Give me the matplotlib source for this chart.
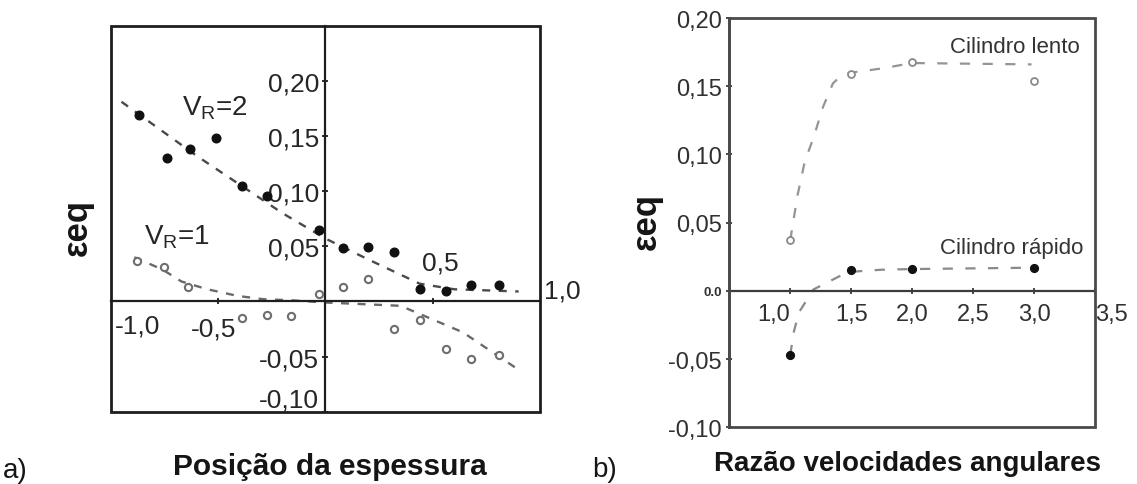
import matplotlib
matplotlib.use("Agg")
import matplotlib.pyplot as plt
from matplotlib.patches import Rectangle

plt.rcParams['font.family'] = ['Liberation Sans', 'DejaVu Sans']

# ---------------- Panel a data ----------------
vr2_x = [-0.87, -0.74, -0.63, -0.51, -0.39, -0.27, -0.03, 0.08, 0.20, 0.32, 0.44, 0.56, 0.68, 0.81]
vr2_y = [0.169, 0.130, 0.138, 0.148, 0.105, 0.096, 0.065, 0.048, 0.049, 0.045, 0.011, 0.009, 0.015, 0.015]
vr1_x = [-0.88, -0.75, -0.64, -0.39, -0.27, -0.16, -0.03, 0.08, 0.20, 0.32, 0.44, 0.56, 0.68, 0.81]
vr1_y = [0.037, 0.031, 0.013, -0.015, -0.012, -0.013, 0.007, 0.013, 0.020, -0.025, -0.017, -0.043, -0.052, -0.049]
fit2_x = [-0.95, -0.60, -0.20, 0.0, 0.20, 0.44, 0.60, 0.90]
fit2_y = [0.181, 0.132, 0.080, 0.057, 0.038, 0.016, 0.011, 0.009]
fit1_x = [-0.89, -0.76, -0.67, -0.55, -0.41, -0.29, -0.16, 0.0, 0.35, 0.64, 0.90]
fit1_y = [0.040, 0.029, 0.018, 0.011, 0.005, 0.002, 0.001, -0.001, -0.004, -0.028, -0.062]
a_yticks = [-0.10, -0.05, 0.05, 0.10, 0.15, 0.20]
a_ylabels = ['-0,10', '-0,05', '0,05', '0,10', '0,15', '0,20']
a_xticks = [-1.0, -0.5, 0.5, 1.0]
a_xlabels = ['-1,0', '-0,5', '0,5', '1,0']

# ---------------- Panel b data ----------------
ratio = [1.0, 1.5, 2.0, 3.0]
lento = [0.037, 0.159, 0.168, 0.154]
rapido = [-0.047, 0.015, 0.016, 0.017]
fitL_x = [1.0, 1.06, 1.12, 1.19, 1.27, 1.35, 1.42, 1.5, 1.75, 2.0, 2.98]
fitL_y = [0.037, 0.070, 0.095, 0.112, 0.135, 0.152, 0.158, 0.160, 0.163, 0.167, 0.166]
fitR_x = [1.0, 1.03, 1.07, 1.19, 1.41, 1.5, 1.75, 2.0, 3.0]
fitR_y = [-0.047, -0.030, -0.016, 0.001, 0.011, 0.014, 0.0155, 0.016, 0.017]
b_xticks = [1.0, 1.5, 2.0, 2.5, 3.0, 3.5]
b_xlabels = ['1,0', '1,5', '2,0', '2,5', '3,0', '3,5']
b_yticks = [-0.10, -0.05, 0.0, 0.05, 0.10, 0.15, 0.20]
b_ylabels = ['-0,10', '-0,05', '0.0', '0,05', '0,10', '0,15', '0,20']

fig = plt.figure(figsize=(11.37, 4.85), dpi=100)

# ======================= Panel a =======================
axA = fig.add_axes([0.0974, 0.1491, 0.3776, 0.7959])
axA.set_xlim(-1.0, 1.0)
axA.set_ylim(-0.10, 0.25)
axA.spines['top'].set_visible(False)
axA.spines['right'].set_visible(False)
for s in ['left', 'bottom']:
    axA.spines[s].set_position(('data', 0))
    axA.spines[s].set_linewidth(1.6)
    axA.spines[s].set_color('#1e1e1e')
axA.add_patch(Rectangle((0, 0), 1, 1, transform=axA.transAxes, fill=False,
                        lw=2.0, ec='#1e1e1e', clip_on=False, zorder=5))
axA.set_yticks(a_yticks, a_ylabels)
axA.set_xticks([t for t in a_xticks if abs(t) < 1.0], ['' for t in a_xticks if abs(t) < 1.0])
axA.tick_params(axis='both', direction='inout', length=5, width=1.3, colors='#1e1e1e')
axA.tick_params(axis='y', pad=2, labelsize=19, labelcolor='#262626')
for lab in axA.get_yticklabels():
    if lab.get_text() == '-0,10':
        lab.set_va('bottom')

a_xlab_dx = [0.126, -0.02, 0.033, 0.104]
a_xlab_y = [-0.022, -0.0245, 0.035, 0.010]
for t, lab, dx, yy in zip(a_xticks, a_xlabels, a_xlab_dx, a_xlab_y):
    axA.text(t + dx, yy, lab, ha='center', va='center', fontsize=19,
             color='#262626', clip_on=False)

axA.plot(fit2_x, fit2_y, color='#4a4a4a', lw=1.7, dashes=(3.4, 3.6), zorder=2)
axA.plot(fit1_x, fit1_y, color='#6a6a6a', lw=1.7, dashes=(3.4, 3.6), zorder=2)
axA.plot(vr2_x, vr2_y, 'o', ms=6.2, color='#111111', zorder=4, clip_on=False)
axA.plot(vr1_x, vr1_y, 'o', ms=5.2, mfc='white', mec='#6e6e6e', mew=1.5, zorder=4)

axA.text(-0.666, 0.170, r'V$_\mathregular{R}$=2', fontsize=20, color='#262626', va='baseline')
axA.text(-0.847, 0.0525, r'V$_\mathregular{R}$=1', fontsize=20, color='#262626', va='baseline')

# ======================= Panel b =======================
axB = fig.add_axes([0.6414, 0.1169, 0.3216, 0.8439])
axB.set_xlim(0.5, 3.5)
axB.set_ylim(-0.10, 0.20)
axB.spines['top'].set_visible(False)
axB.spines['right'].set_visible(False)
axB.spines['bottom'].set_position(('data', 0))
axB.spines['bottom'].set_linewidth(1.6)
axB.spines['bottom'].set_color('#3c3c3c')
axB.spines['left'].set_linewidth(2.0)
axB.spines['left'].set_color('#4a4a4a')
axB.add_patch(Rectangle((0, 0), 1, 1, transform=axB.transAxes, fill=False,
                        lw=2.0, ec='#4a4a4a', clip_on=False, zorder=5))
axB.set_xticks(b_xticks, b_xlabels)
axB.set_yticks(b_yticks, b_ylabels)
axB.tick_params(axis='both', direction='inout', length=5, width=1.3, colors='#3c3c3c')
axB.tick_params(axis='x', pad=6, labelsize=17, labelcolor='#303030')
axB.tick_params(axis='y', pad=3, labelsize=17, labelcolor='#303030')
xl = axB.get_xticklabels()
xl[-1].set_ha('left')
xl[0].set_ha('right')
for lab in axB.get_yticklabels():
    if lab.get_text() == '0.0':
        lab.set_fontsize(9.5)
        lab.set_fontweight('bold')

axB.plot(fitL_x, fitL_y, color='#959595', lw=1.6, dashes=(4.6, 5.6), zorder=2)
axB.plot(fitR_x, fitR_y, color='#8a8a8a', lw=1.6, dashes=(4.6, 5.6), zorder=2)
axB.plot(ratio, lento, 'o', ms=5.0, mfc='white', mec='#8a8a8a', mew=1.3, zorder=4)
axB.plot(ratio, rapido, 'o', ms=5.6, color='#111111', zorder=4)

axB.text(2.307, 0.179, 'Cilindro lento', fontsize=16, color='#333333', va='center')
axB.text(2.225, 0.032, 'Cilindro rápido', fontsize=16, color='#333333', va='center')

# ======================= labels =======================
fig.text(330 / 1137, 1 - 475 / 485, 'Posição da espessura', fontsize=21.5,
         fontweight='bold', ha='center', va='baseline', color='#151515')
fig.text(908 / 1137, 1 - 471 / 485, 'Razão velocidades angulares', fontsize=20,
         fontweight='bold', ha='center', va='baseline', color='#151515')
fig.text(77 / 1137, 1 - 228 / 485, 'εeq', fontsize=25, fontweight='bold',
         rotation=90, ha='center', va='center', color='#151515')
fig.text(646 / 1137, 1 - 222 / 485, 'εeq', fontsize=25, fontweight='bold',
         rotation=90, ha='center', va='center', color='#151515')
fig.text(3 / 1137, 1 - 478 / 485, 'a)', fontsize=20, ha='left', va='baseline', color='#151515')
fig.text(592 / 1137, 1 - 477 / 485, 'b)', fontsize=20, ha='left', va='baseline', color='#151515')

fig.savefig('out.png', dpi=100)
